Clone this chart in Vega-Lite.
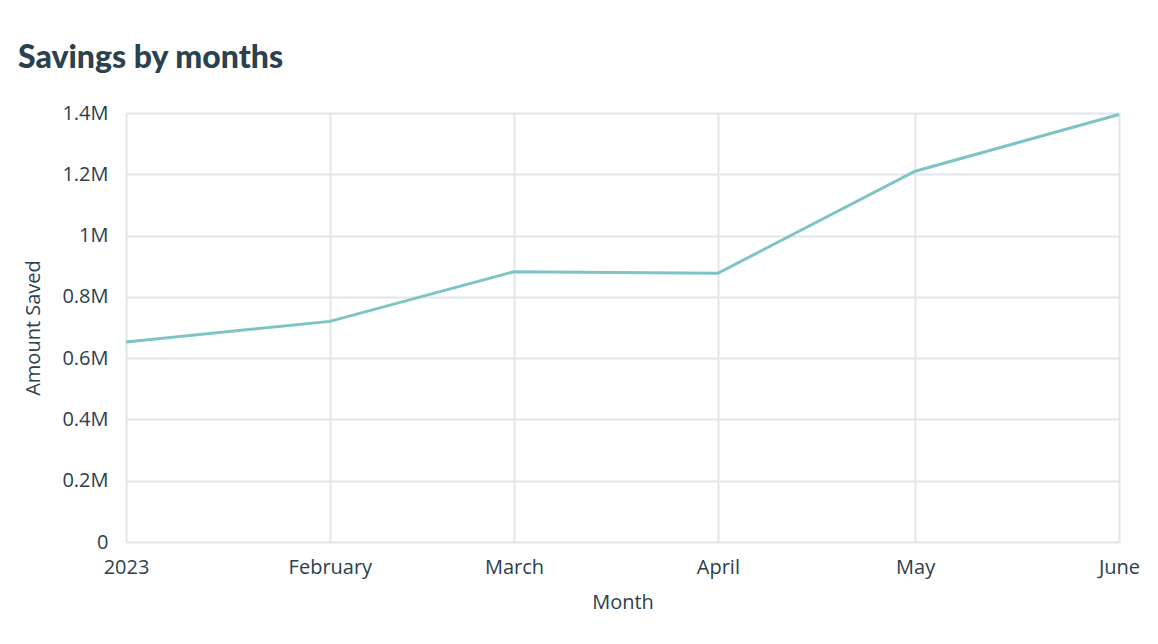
{
  "$schema": "https://vega.github.io/schema/vega-lite/v6.json",
  "autosize": "none",
  "padding": {"left": 126, "top": 113, "right": 39, "bottom": 102},
  "width": 993,
  "height": 429,
  "background": "white",
  "title": {
    "text": "Savings by months",
    "anchor": "start",
    "frame": "group",
    "dx": -108,
    "offset": 28,
    "font": "Lato",
    "fontSize": 32,
    "fontWeight": 900,
    "color": "#2b4150"
  },
  "data": {
    "values": [
      {"month": "2023-01-01", "amount": 653000},
      {"month": "2023-02-01", "amount": 720000},
      {"month": "2023-03-01", "amount": 882000},
      {"month": "2023-04-01", "amount": 877000},
      {"month": "2023-05-01", "amount": 1210000},
      {"month": "2023-06-01", "amount": 1395000}
    ]
  },
  "mark": {"type": "line", "color": "#7ec4c7", "strokeWidth": 3},
  "encoding": {
    "x": {
      "field": "month",
      "type": "temporal",
      "title": "Month",
      "scale": {"type": "utc", "nice": false},
      "axis": {"tickCount": {"interval": "month", "step": 1}, "labelPadding": 15, "titlePadding": 15, "labelFlush": false, "labelOverlap": false}
    },
    "y": {
      "field": "amount",
      "type": "quantitative",
      "title": "Amount Saved",
      "scale": {"domain": [0, 1400000], "nice": false},
      "axis": {
        "values": [0, 200000, 400000, 600000, 800000, 1000000, 1200000, 1400000],
        "labelExpr": "datum.value == 0 ? '0' : format(datum.value / 1000000, '~g') + 'M'",
        "labelPadding": 18,
        "titlePadding": 18
      }
    }
  },
  "config": {
    "view": {"stroke": null},
    "axis": {
      "domain": false,
      "ticks": false,
      "grid": true,
      "gridColor": "#e2e6ea",
      "gridWidth": 2,
      "labelFont": "Open Sans",
      "labelFontSize": 20,
      "labelColor": "#2b3f4e",
      "titleFont": "Open Sans",
      "titleFontSize": 20,
      "titleFontWeight": "normal",
      "titleColor": "#2b3f4e"
    }
  }
}
